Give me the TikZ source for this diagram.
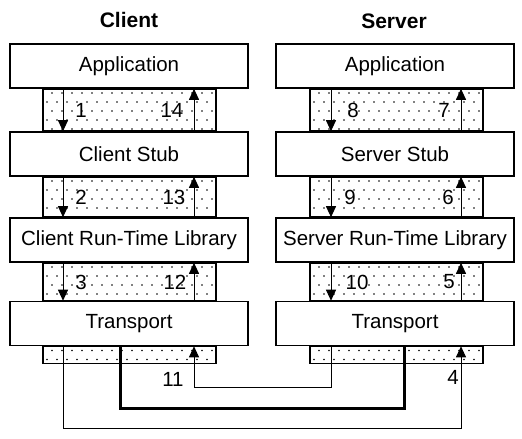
\documentclass[tikz,border=0pt]{standalone}
\usepackage{fontspec}
\setmainfont{Liberation Sans}
\usetikzlibrary{arrows.meta}
% dot grid of one band: left x, top y, number of rows
\newcommand\dotband[3]{%
  \foreach \r in {1,...,#3}{
    \foreach \c in {0,...,16}{
      \fill ({#1+4+10*\c+5*mod(\r,2)},{#2+9*\r-4}) circle (0.8pt);
    }}}
\begin{document}
\begin{tikzpicture}[x=1pt,y=-1pt,
  layer/.style={draw,line width=1.6pt,fill=white,minimum width=238pt,minimum height=44pt,inner sep=0pt,font=\fontsize{20.5}{24}\selectfont},
  band/.style={draw,line width=1.6pt},
  num/.style={font=\fontsize{20.5}{24}\selectfont,inner sep=1pt},
  title/.style={font=\fontsize{21}{25}\selectfont\bfseries},
  flow/.style={line width=1pt,-{Triangle[length=11pt,width=10pt]}}]
\useasboundingbox (0,0) rectangle (522,439);

\node[title] (tclient) at (129,20) {Client};
\node[title] (tserver) at (394,21) {Server};

\node[layer] (capp) at (129,66) {Application};
\node[layer] (cstub) at (129,154) {Client Stub};
\node[layer] (crtl) at (129,240) {Client Run-Time Library};
\node[layer] (ctrans) at (129,323.5) {Transport};
\node[layer] (sapp) at (395,66) {Application};
\node[layer] (sstub) at (395,154) {Server Stub};
\node[layer] (srtl) at (395,240) {Server Run-Time Library};
\node[layer] (strans) at (395,323.5) {Transport};

\draw[band] ([xshift=-86pt]capp.south) rectangle ([xshift=87pt]cstub.north);
\draw[band] ([xshift=-86pt]cstub.south) rectangle ([xshift=87pt]crtl.north);
\draw[band] ([xshift=-86pt]crtl.south) rectangle ([xshift=87pt]ctrans.north);
\draw[band] ([xshift=-86pt]ctrans.south) rectangle ++(173,17);
\draw[band] ([xshift=-85pt]sapp.south) rectangle ([xshift=88pt]sstub.north);
\draw[band] ([xshift=-85pt]sstub.south) rectangle ([xshift=88pt]srtl.north);
\draw[band] ([xshift=-85pt]srtl.south) rectangle ([xshift=88pt]strans.north);
\draw[band] ([xshift=-85pt]strans.south) rectangle ++(173,17);

\dotband{43}{88}{5}
\dotband{43}{176}{5}
\dotband{43}{262}{4}
\dotband{43}{345.5}{2}
\dotband{310}{88}{5}
\dotband{310}{176}{5}
\dotband{310}{262}{4}
\dotband{310}{345.5}{2}

\coordinate (cdn) at (63,0);
\coordinate (cup) at (194,0);
\coordinate (sdn) at (331,0);
\coordinate (sup) at (461,0);
\coordinate (cwire) at (120,0);
\coordinate (swire) at (404,0);
\coordinate (rowa) at (0,387);
\coordinate (rowb) at (0,408);
\coordinate (rowc) at (0,428);

\draw[flow] (capp.south -| cdn) -- (cstub.north -| cdn);
\draw[flow] (cstub.south -| cdn) -- (crtl.north -| cdn);
\draw[flow] (crtl.south -| cdn) -- (ctrans.north -| cdn);
\draw[flow] (ctrans.north -| cup) -- (crtl.south -| cup);
\draw[flow] (crtl.north -| cup) -- (cstub.south -| cup);
\draw[flow] (cstub.north -| cup) -- (capp.south -| cup);
\draw[flow] (sapp.south -| sdn) -- (sstub.north -| sdn);
\draw[flow] (sstub.south -| sdn) -- (srtl.north -| sdn);
\draw[flow] (srtl.south -| sdn) -- (strans.north -| sdn);
\draw[flow] (strans.north -| sup) -- (srtl.south -| sup);
\draw[flow] (srtl.north -| sup) -- (sstub.south -| sup);
\draw[flow] (sstub.north -| sup) -- (sapp.south -| sup);

\node[num] (n1) at (81,110) {1};
\node[num] (n14) at (172,110) {14};
\node[num] (n2) at (81,197) {2};
\node[num] (n13) at (174,197) {13};
\node[num] (n3) at (81,282) {3};
\node[num] (n12) at (175,282) {12};
\node[num] (n8) at (353,110) {8};
\node[num] (n7) at (444,110) {7};
\node[num] (n9) at (350,197) {9};
\node[num] (n6) at (448,197) {6};
\node[num] (n10) at (357,282) {10};
\node[num] (n5) at (449,282) {5};

\draw[flow] (ctrans.south -| cdn) -- (cdn |- rowc) -- (sup |- rowc) -- (strans.south -| sup);
\draw[line width=3pt] (ctrans.south -| cwire) -- (cwire |- rowb) -- (swire |- rowb) -- (strans.south -| swire);
\draw[flow] (strans.south -| sdn) -- (sdn |- rowa) -- (cup |- rowa) -- (ctrans.south -| cup);
\node[num] (n11) at (173,379) {11};
\node[num] (n4) at (453,377) {4};
\end{tikzpicture}
\end{document}
